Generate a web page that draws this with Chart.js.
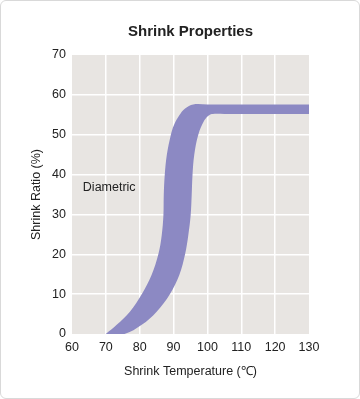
<!DOCTYPE html>
<html>
<head>
<meta charset="utf-8">
<script src="https://cdn.jsdelivr.net/npm/chart.js@4"></script>
<style>
  body { margin: 0; background: #fff; }
  #wrap { position: relative; width: 360px; height: 399px; }
  #frame { position: absolute; left: 0; top: 0; width: 358px; height: 397px; border: 1px solid #d9d9d9; border-radius: 6px; pointer-events: none; }
  canvas { position: absolute; left: 0; top: 0; }
</style>
</head>
<body>
<div id="wrap">
  <canvas id="myChart" width="360" height="399"></canvas>
  <div id="frame"></div>
</div>
<script>
// upper / left edge of the band (temperature, ratio)
let upperTemp = [70, 73.2, 77.1, 80.6, 83.5, 85.5, 86.5, 87.0, 87.1, 87.4, 88.0, 89.2, 90.1, 91.7, 93.4, 95.8, 100, 130];
let upperRatio = [0, 2.3, 5.6, 10, 14.8, 20, 24.8, 29.8, 34.8, 40, 44.9, 50, 52.4, 54.9, 56.6, 57.6, 57.6, 57.6];

// lower / right edge of the band
let lowerTemp = [70, 75.5, 80.6, 85.0, 88.9, 91.7, 93.4, 94.35, 95.05, 95.35, 95.6, 96.1, 97.3, 99.1, 100.5, 101.6, 105, 130];
let lowerRatio = [0, 0, 2.3, 5.6, 10, 14.8, 20, 24.8, 29.8, 34.8, 40, 44.9, 50, 53.6, 54.9, 55.2, 55.2, 55.2];

let xTicks = [60, 70, 80, 90, 100, 110, 120, 130];
let yTicks = [0, 10, 20, 30, 40, 50, 60, 70];

let chartTitle = 'Shrink Properties';
let bandLabel = 'Diametric';
let bandLabelAt = [63.2, 36.8];

const textColor = '#222';
const fontFam = "'Liberation Sans', Arial, sans-serif";

function toPoints(xs, ys) {
	return xs.map((x, i) => ({ x: x, y: ys[i] }));
}

// gray plot background
const plotBg = {
	id: 'plotBg',
	beforeDraw(chart) {
		const a = chart.chartArea;
		const ctx = chart.ctx;
		ctx.save();
		ctx.fillStyle = '#e8e5e2';
		ctx.fillRect(a.left, a.top, a.right - a.left, a.bottom - a.top);
		ctx.restore();
	}
};

// title centred over the plot, plus the "Diametric" note
const texts = {
	id: 'texts',
	afterDraw(chart) {
		const ctx = chart.ctx;
		const a = chart.chartArea;
		ctx.save();
		ctx.fillStyle = textColor;
		ctx.textBaseline = 'middle';

		ctx.font = 'bold 15px ' + fontFam;
		ctx.textAlign = 'center';
		ctx.fillText(chartTitle, (a.left + a.right) / 2, 32);

		const x = chart.scales.x.getPixelForValue(bandLabelAt[0]);
		const y = chart.scales.y.getPixelForValue(bandLabelAt[1]);
		ctx.font = '12.5px ' + fontFam;
		ctx.textAlign = 'left';
		ctx.fillText(bandLabel, x, y);
		ctx.restore();
	}
};

function edgeGrid(min, max) {
	return (c) => (c.tick && (c.tick.value === min || c.tick.value === max)) ? 'rgba(0,0,0,0)' : '#ffffff';
}

const ctx = document.getElementById('myChart').getContext('2d');
let myChart = new Chart(ctx, {
	type: 'line',
	data: {
		datasets: [{
			label: 'upper',
			data: toPoints(upperTemp, upperRatio),
			fill: '+1',
			backgroundColor: '#8c89c3',
			borderWidth: 0,
			pointRadius: 0,
			tension: 0.35
		}, {
			label: 'lower',
			data: toPoints(lowerTemp, lowerRatio),
			fill: false,
			borderWidth: 0,
			pointRadius: 0,
			tension: 0.35
		}]
	},
	options: {
		responsive: false,
		animation: false,
		layout: { padding: { left: 25, right: 51, top: 55, bottom: 16 } },
		plugins: {
			legend: { display: false },
			tooltip: { enabled: false },
			title: { display: false }
		},
		scales: {
			x: {
				type: 'linear',
				min: 60,
				max: 130,
				afterBuildTicks: (s) => { s.ticks = xTicks.map(v => ({ value: v })); },
				afterFit: (s) => { s.height = 49; },
				grid: { color: edgeGrid(60, 130), lineWidth: 1.5, drawTicks: false },
				border: { display: false },
				ticks: { color: textColor, padding: 6, font: { family: fontFam, size: 12.5 } },
				title: {
					display: true,
					text: 'Shrink Temperature (℃)',
					color: textColor,
					font: { family: fontFam, size: 12.5 },
					padding: { top: 8 }
				}
			},
			y: {
				min: 0,
				max: 70,
				afterBuildTicks: (s) => { s.ticks = yTicks.map(v => ({ value: v })); },
				afterFit: (s) => { s.width = 47; },
				grid: { color: edgeGrid(0, 70), lineWidth: 1.5, drawTicks: false },
				border: { display: false },
				ticks: { color: textColor, padding: 6, font: { family: fontFam, size: 12.5 } },
				title: {
					display: true,
					text: 'Shrink Ratio (%)',
					color: textColor,
					font: { family: fontFam, size: 12.5 },
					padding: { bottom: 4 }
				}
			}
		}
	},
	plugins: [plotBg, texts]
});
</script>
</body>
</html>
